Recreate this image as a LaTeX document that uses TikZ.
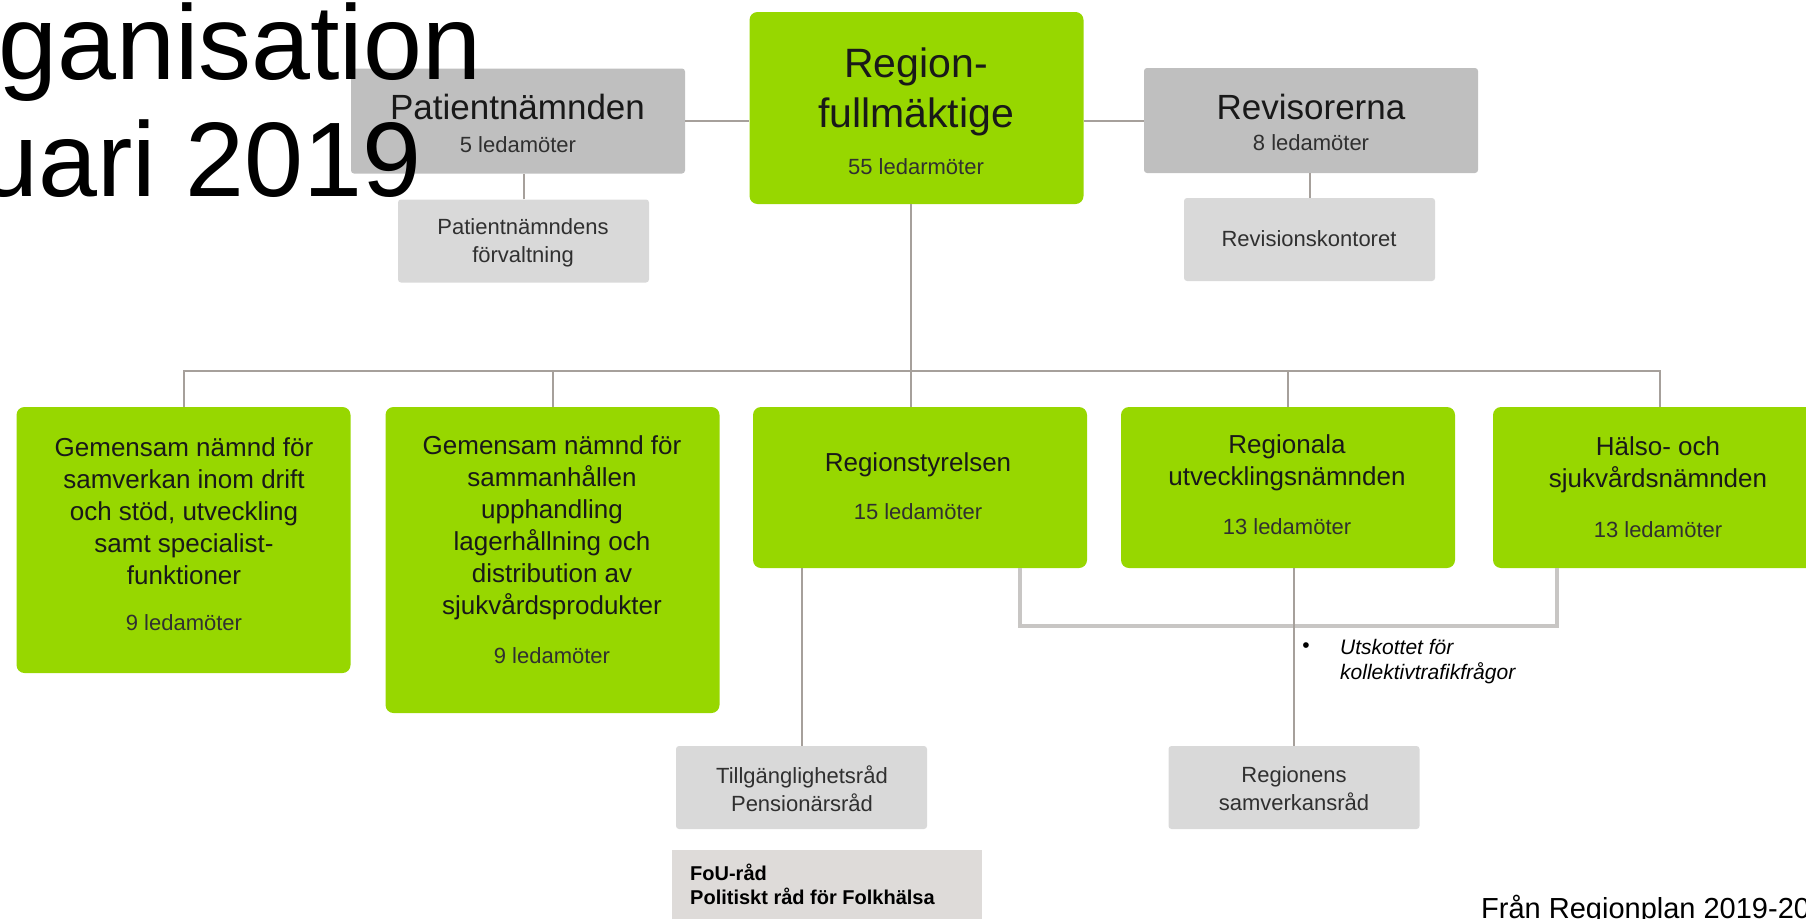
\documentclass[tikz,border=0pt]{standalone}
\usepackage{fontspec}
\setmainfont{Liberation Sans}
\usetikzlibrary{calc}

\definecolor{regiongreen}{RGB}{151,215,0}
\definecolor{boxgray}{RGB}{191,191,191}
\definecolor{boxlight}{RGB}{217,217,217}
\definecolor{foufill}{RGB}{222,219,217}
\definecolor{linegray}{RGB}{166,160,155}
\definecolor{brackgray}{RGB}{200,198,196}
\definecolor{txtdark}{RGB}{25,25,25}
\newcommand{\fsz}[2]{\fontsize{#1}{#2}\selectfont}

\tikzset{
  greenbox/.style={fill=regiongreen, rounded corners=8pt, minimum width=334, inner sep=0},
  graybox/.style={fill=boxgray, rounded corners=3pt, minimum width=334, minimum height=105, inner sep=0},
  lightbox/.style={fill=boxlight, rounded corners=3pt, minimum width=251, minimum height=83, inner sep=0},
  conn/.style={draw=linegray, line width=2pt},
  brack/.style={draw=brackgray, line width=4pt},
  bigtxt/.style={font=\fsz{26}{32}, align=center, text=txtdark, inner sep=0},
  smalltxt/.style={font=\fsz{22}{28}, align=center, text=txtdark!90, inner sep=0},
}

\begin{document}
\begin{tikzpicture}[x=1pt,y=-1pt]
    \useasboundingbox (0,0) rectangle (1806,918);
    \clip (0,0) rectangle (1806,918);

    % top row
    \node[greenbox, minimum height=192] (rf) at (916.5,108) {};
    \node[graybox] (pn) at (518,121) {};
    \node[graybox] (rev) at (1311,120.5) {};
    \node[lightbox] (pnf) at (523.5,241) {};
    \node[lightbox] (revk) at (1309.5,239.5) {};

    % committees
    \node[greenbox, minimum height=266] (gA) at (183.5,540) {};
    \node[greenbox, minimum height=306] (gB) at (552.5,560) {};
    \node[greenbox, minimum height=161] (rs) at (920,487.5) {};
    \node[greenbox, minimum height=161] (ru) at (1288,487.5) {};
    \node[greenbox, minimum height=161] (hs) at (1660,487.5) {};

    % councils
    \node[lightbox] (ti) at (801.5,787.5) {};
    \node[lightbox] (rsam) at (1294,787.5) {};
    \node[fill=foufill, minimum width=310, minimum height=80, inner sep=0] (fou) at (827,890) {};

    % lines
    \coordinate (bus) at (911,371);
    \draw[conn] (pn.east) -- (pn.east -| rf.west);
    \draw[conn] (rev.west -| rf.east) -- (rev.west);
    \draw[conn] (pnf.north) -- (pnf.north |- pn.south);
    \draw[conn] (revk.north) -- (revk.north |- rev.south);
    \draw[conn] (rf.south -| bus) -- (rs.north -| bus);
    \draw[conn] (gA.north) |- (bus) -| (hs.north);
    \draw[conn] (gB.north) -- (gB.north |- bus);
    \draw[conn] (ru.north) -- (ru.north |- bus);
    \draw[brack] ([xshift=-67]rs.south east) -- ++(0,58) -| ([xshift=64]hs.south west);
    \draw[conn] (ti.north) -- (ti.north |- rs.south);
    \draw[conn] (rsam.north) -- (rsam.north |- ru.south);

    % texts
    \node[bigtxt, font=\fsz{41}{50}] (rf-t) at (916,92) {Region-\\fullmäktige};
    \node[smalltxt] (rf-n) at (916,167) {55 ledarmöter};
    \node[bigtxt, font=\fsz{35}{40}] (pn-t) at (517.5,107) {Patientnämnden};
    \node[smalltxt] (pn-n) at (518,145) {5 ledamöter};
    \node[bigtxt, font=\fsz{35}{40}] (rev-t) at (1311,107) {Revisorerna};
    \node[smalltxt] (rev-n) at (1311,143) {8 ledamöter};
    \node[smalltxt] (pnf-t) at (523,243) {Patientnämndens\\förvaltning};
    \node[smalltxt] (revk-t) at (1309,239) {Revisionskontoret};

    \node[bigtxt] (gA-t) at (184,511.5) {Gemensam nämnd för\\samverkan inom drift\\och stöd, utveckling\\samt specialist-\\funktioner};
    \node[smalltxt] (gA-n) at (184,623) {9 ledamöter};
    \node[bigtxt] (gB-t) at (552,528) {Gemensam nämnd för\\sammanhållen\\upphandling\\lagerhållning och\\distribution av\\sjukvårdsprodukter};
    \node[smalltxt] (gB-n) at (552,656) {9 ledamöter};
    \node[bigtxt] (rs-t) at (918,465) {Regionstyrelsen};
    \node[smalltxt] (rs-n) at (918,512) {15 ledamöter};
    \node[bigtxt] (ru-t) at (1287,463) {Regionala\\utvecklingsnämnden};
    \node[smalltxt] (ru-n) at (1287,527) {13 ledamöter};
    \node[bigtxt] (hs-t) at (1658,465) {Hälso- och\\sjukvårdsnämnden};
    \node[smalltxt] (hs-n) at (1658,530) {13 ledamöter};

    \node[smalltxt] (ti-t) at (802,789) {Tillgänglighetsråd\\Pensionärsråd};
    \node[smalltxt] (rsam-t) at (1294,789) {Regionens\\samverkansråd};
    \node[font=\bfseries\fsz{20}{24}, align=left, anchor=west, inner sep=0] (fou-t) at (690,884) {FoU-råd\\Politiskt råd för Folkhälsa};

    \node[font=\fsz{21}{25}, inner sep=0] (bul) at (1306,648) {•};
    \node[font=\itshape\fsz{21}{25}, align=left, anchor=west, inner sep=0] (utsk) at (1340,662) {Utskottet för\\kollektivtrafikfrågor};

    \node[font=\fsz{29}{34}, anchor=base west, inner sep=0] (src) at (1481,918) {Från Regionplan 2019-20};

    % title
    \node[font=\fsz{106}{117}, anchor=base west, inner sep=0] (ttl1) at (-2,79) {ganisation};
    \node[font=\fsz{106}{117}, anchor=base west, inner sep=0] (ttl2) at (-21,196) {uari 2019};
\end{tikzpicture}
\end{document}
